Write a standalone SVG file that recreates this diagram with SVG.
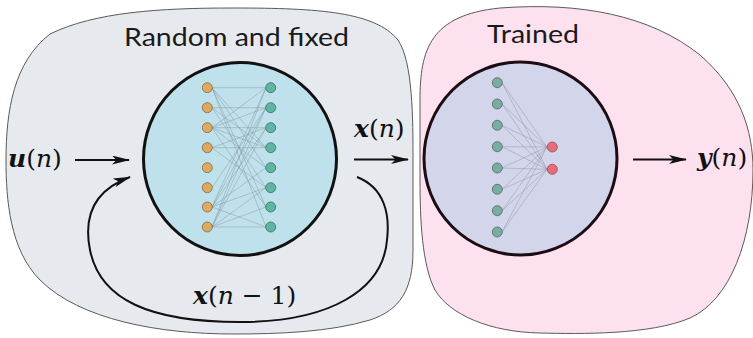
<svg xmlns="http://www.w3.org/2000/svg" width="753" height="338" viewBox="0 0 753 338">
<style>
.blob{stroke:#5a5a5a;stroke-width:1}
.title{font-family:Lato,"Open Sans",sans-serif;font-size:25px;fill:#1a1a1a}
.math{font-family:"DejaVu Serif","Liberation Serif",serif;font-size:25px;fill:#111}
.vec{font-weight:bold;font-style:italic}
.it{font-style:italic}
.ring{stroke-width:3}
.syn{stroke:#7d9198;stroke-width:0.6;stroke-opacity:0.7;fill:none}
.syn2{stroke:#8f8a9e;stroke-width:0.6;stroke-opacity:0.7;fill:none}
.o{fill:#e0aa5e;stroke:#7b6a52;stroke-width:0.8}
.t{fill:#5db5a2;stroke:#3e6d62;stroke-width:0.8}
.t2{fill:#78ad9f;stroke:#4f6a62;stroke-width:0.8}
.r{fill:#ec6b7b;stroke:#8e4c56;stroke-width:0.8}
.arr{stroke:#111;stroke-width:2;fill:none}
</style>
<defs>
<marker id="ah" viewBox="0 0 18 9" refX="17" refY="4.5" markerWidth="18" markerHeight="9" markerUnits="userSpaceOnUse" orient="auto">
<path d="M0,0 L18,4.5 L0,9 L4.5,4.5 Z" fill="#111"/>
</marker>
</defs>

<g id="reservoir-region">
<path class="blob" fill="#e6e9ee" d="M 233,8 C 320,8 375,12 398,40 C 413,62 413,120 413,160 L 413,250 C 413,290 400,310 370,320 C 330,332 280,334 233,334 C 160,334 80,320 40,280 C 10,250 6,200 6,160 C 6,110 14,62 50,34 C 95,12 160,8 233,8 Z"/>
<text class="title" x="124" y="46" textLength="225" lengthAdjust="spacingAndGlyphs">Random and fixed</text>
</g>

<g id="readout-region">
<path class="blob" fill="#fde1ee" d="M 420,100 C 420,50 430,15 500,8 C 580,2 650,15 700,55 C 740,90 753,130 753,170 C 753,240 730,300 690,318 C 650,335 580,334 540,333 C 490,332 450,315 435,290 C 422,265 420,220 420,180 Z"/>
<text class="title" x="487" y="43" textLength="92" lengthAdjust="spacingAndGlyphs">Trained</text>
</g>

<g id="reservoir">
<circle class="ring" cx="240" cy="159" r="96.5" fill="#bfe1ec" stroke="#111"/>
<g class="syn">
<path d="M212,87.7 L266,87.7 M212,87.7 L266,147.7 M212,87.7 L266,167.7 M212,87.7 L266,207 M212,87.7 L266,227"/>
<path d="M212,107.7 L266,107.7 M212,107.7 L266,147.7 M212,107.7 L266,187.7"/>
<path d="M212,127.7 L266,87.7 M212,127.7 L266,107.7 M212,127.7 L266,127.7 M212,127.7 L266,147.7 M212,127.7 L266,167.7 M212,127.7 L266,207"/>
<path d="M212,147.7 L266,147.7 M212,147.7 L266,127.7 M212,147.7 L266,187.7"/>
<path d="M212,187.7 L266,107.7"/>
<path d="M212,207 L266,87.7 M212,207 L266,107.7 M212,207 L266,127.7 M212,207 L266,167.7 M212,207 L266,187.7 M212,207 L266,227"/>
<path d="M212,227 L266,87.7 M212,227 L266,107.7 M212,227 L266,127.7 M212,227 L266,187.7 M212,227 L266,207 M212,227 L266,227"/>
</g>
<g>
<circle class="o" cx="207.3" cy="87.7" r="5"/>
<circle class="o" cx="207.3" cy="107.7" r="5"/>
<circle class="o" cx="207.3" cy="127.7" r="5"/>
<circle class="o" cx="207.3" cy="147.7" r="5"/>
<circle class="o" cx="207.3" cy="167.7" r="5"/>
<circle class="o" cx="207.3" cy="187.7" r="5"/>
<circle class="o" cx="207.3" cy="207" r="5"/>
<circle class="o" cx="207.3" cy="227" r="5"/>
<circle class="t" cx="270.7" cy="87.7" r="5"/>
<circle class="t" cx="270.7" cy="107.7" r="5"/>
<circle class="t" cx="270.7" cy="127.7" r="5"/>
<circle class="t" cx="270.7" cy="147.7" r="5"/>
<circle class="t" cx="270.7" cy="167.7" r="5"/>
<circle class="t" cx="270.7" cy="187.7" r="5"/>
<circle class="t" cx="270.7" cy="207" r="5"/>
<circle class="t" cx="270.7" cy="227" r="5"/>
</g>
</g>

<g id="readout">
<circle class="ring" cx="520.5" cy="158.5" r="96.5" fill="#d3d5ea" stroke="#1c0d14"/>
<g class="syn2">
<path d="M502,82.7 L547,147 M502,82.7 L547,169.3 M502,104 L547,147 M502,104 L547,169.3 M502,125.3 L547,147 M502,125.3 L547,169.3 M502,146.7 L547,147 M502,146.7 L547,169.3 M502,168 L547,147 M502,168 L547,169.3 M502,189.3 L547,147 M502,189.3 L547,169.3 M502,210.7 L547,147 M502,210.7 L547,169.3 M502,232 L547,147 M502,232 L547,169.3"/>
</g>
<circle class="t2" cx="497.3" cy="82.7" r="5"/>
<circle class="t2" cx="497.3" cy="104" r="5"/>
<circle class="t2" cx="497.3" cy="125.3" r="5"/>
<circle class="t2" cx="497.3" cy="146.7" r="5"/>
<circle class="t2" cx="497.3" cy="168" r="5"/>
<circle class="t2" cx="497.3" cy="189.3" r="5"/>
<circle class="t2" cx="497.3" cy="210.7" r="5"/>
<circle class="t2" cx="497.3" cy="232" r="5"/>
<circle class="r" cx="552.3" cy="147" r="5"/>
<circle class="r" cx="552.3" cy="169.3" r="5"/>
</g>

<g id="connectors">
<path class="arr" d="M75,160 L129,160" marker-end="url(#ah)"/>
<path class="arr" d="M354,159.5 L408,159.5" marker-end="url(#ah)"/>
<path class="arr" d="M633,159.5 L686,159.5" marker-end="url(#ah)"/>
<path class="arr" stroke-width="2.5" d="M357,177 C 385,188 390,215 387,240 C 383,290 330,322 240,322 C 150,322 100,300 90,250 C 82,210 100,188 130,177" marker-end="url(#ah)"/>
</g>

<g id="labels">
<text class="math" x="8" y="167"><tspan class="vec">u</tspan>(<tspan class="it">n</tspan>)</text>
<text class="math" x="354" y="137"><tspan class="vec">x</tspan>(<tspan class="it">n</tspan>)</text>
<text class="math" x="193" y="304"><tspan class="vec">x</tspan>(<tspan class="it">n</tspan> − 1)</text>
<text class="math" x="697" y="166"><tspan class="vec">y</tspan>(<tspan class="it">n</tspan>)</text>
</g>
</svg>
